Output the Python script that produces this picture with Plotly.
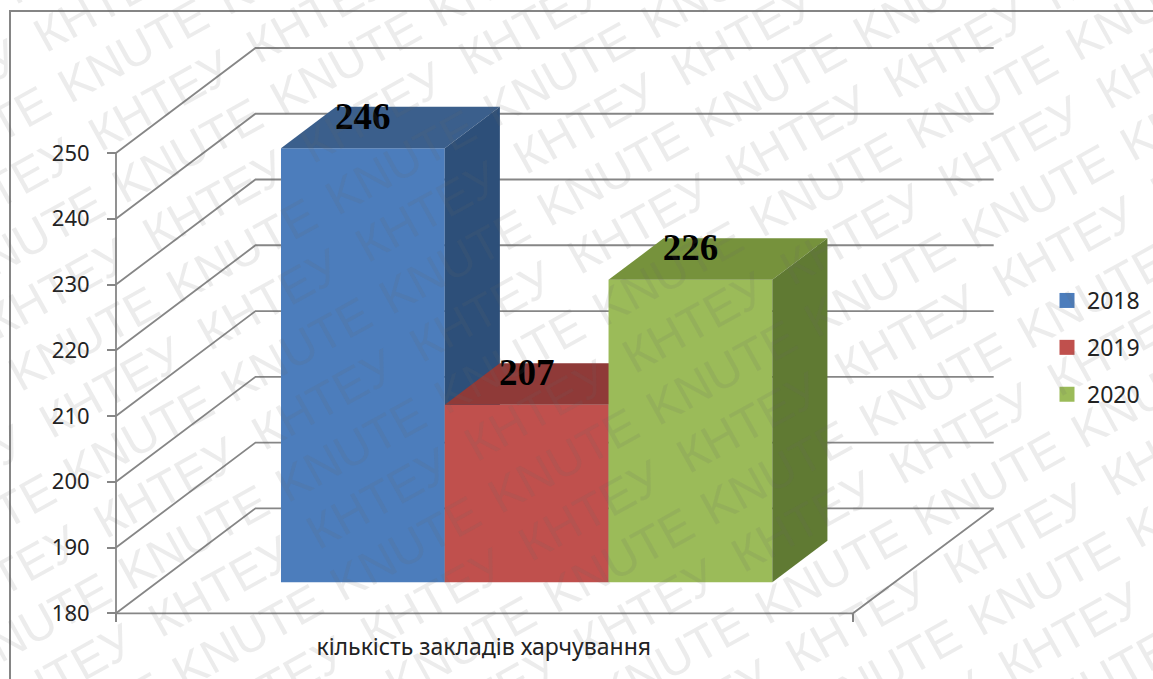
import plotly.graph_objects as go

category = "кількість закладів харчування"
years = ["2018", "2019", "2020"]
values = [246, 207, 226]
y_ticks = [180, 190, 200, 210, 220, 230, 240, 250]
front_colors = ["#4c7dbc", "#c0504d", "#9bbb59"]
top_colors = ["#3b5f8c", "#8f3a38", "#76923c"]
side_colors = ["#2d4f79", "#7c302e", "#607a33"]

W, H = 1153, 679
PX_X0, PX_X1 = 116.0, 853.0
PX_Y180, PX_Y250 = 613.3, 153.0
ux = PX_X1 - PX_X0
uy = (PX_Y180 - PX_Y250) / 70.0
x_range = [(0 - PX_X0) / ux, (W - PX_X0) / ux]
y_range = [180 - (H - PX_Y180) / uy, 180 + PX_Y180 / uy]

DX, DY = 139.5 / ux, 105.0 / uy       # oblique offset of the back wall
WALL_RIGHT = 1 + 140.7 / ux
D_FRONT, D_BACK = 0.295, 0.69
BAR_W = 2 / 9
BAR_START = 1 / 6 + 1.0 / ux
LINE = "#868686"
LW = 1.8


def proj(x, v, d):
    return x + d * DX, v + d * DY


fig = go.Figure()

# walls / gridlines (base axes)
for v in y_ticks:
    xs = [0, DX, WALL_RIGHT]
    ys = [v, v + DY, v + DY]
    fig.add_trace(go.Scatter(x=xs, y=ys, mode="lines", line=dict(color=LINE, width=LW),
                             showlegend=False, hoverinfo="skip", xaxis="x", yaxis="y"))
fig.add_trace(go.Scatter(x=[0, 0], y=[y_ticks[0], y_ticks[-1]], mode="lines",
                         line=dict(color=LINE, width=LW), showlegend=False, hoverinfo="skip"))
fig.add_trace(go.Scatter(x=[0, 1, WALL_RIGHT], y=[180, 180, 180 + DY], mode="lines",
                         line=dict(color=LINE, width=LW), showlegend=False, hoverinfo="skip"))
fig.add_trace(go.Scatter(x=[0.499], y=[174.6], mode="text", text=[category],
                         textfont=dict(family="Noto Sans", size=23, color="#222222"),
                         showlegend=False, hoverinfo="skip"))

# one overlay axis pair per series, painted left to right
layout_axes = {}
for i, (yr, val) in enumerate(zip(years, values)):
    n = i + 2
    xa, ya = f"x{n}", f"y{n}"
    layout_axes[f"xaxis{n}"] = dict(overlaying="x", range=x_range, visible=False)
    layout_axes[f"yaxis{n}"] = dict(overlaying="y", range=y_range, visible=False)
    xl = BAR_START + i * BAR_W
    xr = xl + BAR_W
    _, base = proj(0, 180, D_FRONT)
    cx, _ = proj(xl + BAR_W / 2, 180, D_FRONT)
    top = base + val - 180
    fig.add_trace(go.Bar(x=[cx], y=[val - 180], base=[base], width=[BAR_W], xaxis=xa, yaxis=ya,
                         marker=dict(color=front_colors[i], line=dict(width=0)),
                         showlegend=False, hoverinfo="skip"))
    x1f, _ = proj(xl, 180, D_FRONT)
    x2f, _ = proj(xr, 180, D_FRONT)
    x1b, _ = proj(xl, 180, D_BACK)
    x2b, _ = proj(xr, 180, D_BACK)
    lift = (D_BACK - D_FRONT) * DY
    # top face
    fig.add_trace(go.Scatter(x=[x1f, x2f, x2b, x1b, x1f], y=[top, top, top + lift, top + lift, top],
                             mode="lines", fill="toself", fillcolor=top_colors[i], line=dict(width=0),
                             showlegend=False, hoverinfo="skip", xaxis=xa, yaxis=ya))
    # side face
    fig.add_trace(go.Scatter(x=[x2f, x2b, x2b, x2f, x2f], y=[base, base + lift, top + lift, top, base],
                             mode="lines", fill="toself", fillcolor=side_colors[i], line=dict(width=0),
                             showlegend=False, hoverinfo="skip", xaxis=xa, yaxis=ya))
    # data label
    fig.add_trace(go.Scatter(x=[cx], y=[top + 29 / uy], mode="text", text=[str(val)],
                             textfont=dict(family="Liberation Serif", size=37, color="#000000", weight="bold"),
                             showlegend=False, hoverinfo="skip", xaxis=xa, yaxis=ya))
    # legend entry
    fig.add_trace(go.Scatter(x=[None], y=[None], mode="markers", name=yr, legendgroup=yr,
                             marker=dict(symbol="square", size=15, color=front_colors[i]),
                             xaxis=xa, yaxis=ya))

# watermark: rows of the same word, alternating between rows
ann = []
STEP_W = (158.0, -88.0)
STEP_R = (27.25, 49.75)
ORIGIN = (983.0, 97.0)
for r in range(-24, 30):
    for c in range(-16, 16):
        px = ORIGIN[0] + c * STEP_W[0] + r * STEP_R[0]
        py = ORIGIN[1] + c * STEP_W[1] + r * STEP_R[1]
        if -70 < px < W + 70 and -50 < py < H + 50:
            ann.append(dict(x=px / W, y=1 - py / H, xref="paper", yref="paper", xanchor="center", yanchor="middle",
                            text="KNUTE" if r % 2 == 0 else "КНТЕУ", showarrow=False,
                            textangle=-29, font=dict(family="Liberation Sans", size=48, color="rgba(100,100,100,0.125)")))

fig.update_layout(
    width=W, height=H, margin=dict(l=0, r=0, t=0, b=0, pad=0), autosize=False,
    paper_bgcolor="white", plot_bgcolor="rgba(0,0,0,0)", barmode="overlay",
    xaxis=dict(range=x_range, anchor="free", position=(H - PX_Y180) / H, tickvals=[0, 1], ticktext=["", ""],
               ticks="outside", ticklen=8, tickwidth=LW, tickcolor=LINE, showgrid=False, zeroline=False, showline=False),
    yaxis=dict(range=y_range, anchor="free", position=PX_X0 / W, tickvals=y_ticks, ticks="outside", ticklen=9,
               tickwidth=LW, tickcolor=LINE, showgrid=False, zeroline=False, showline=False, ticklabelstandoff=13,
               tickfont=dict(family="Noto Sans", size=22, color="#222222")),
    legend=dict(x=1047 / W, y=1 - 279 / H, xanchor="left", yanchor="top", tracegroupgap=14,
                bgcolor="rgba(0,0,0,0)", font=dict(family="Noto Sans", size=23, color="#222222")),
    annotations=ann,
    shapes=[dict(type="path", xref="paper", yref="paper", layer="below",
                 path=f"M {10/W},0 L {10/W},{1-11/H} L 1,{1-11/H}", line=dict(color="#858585", width=2))],
    **layout_axes,
)

fig.write_html("out.html", post_script="document.body.style.margin='0';", config={"displayModeBar": False})
